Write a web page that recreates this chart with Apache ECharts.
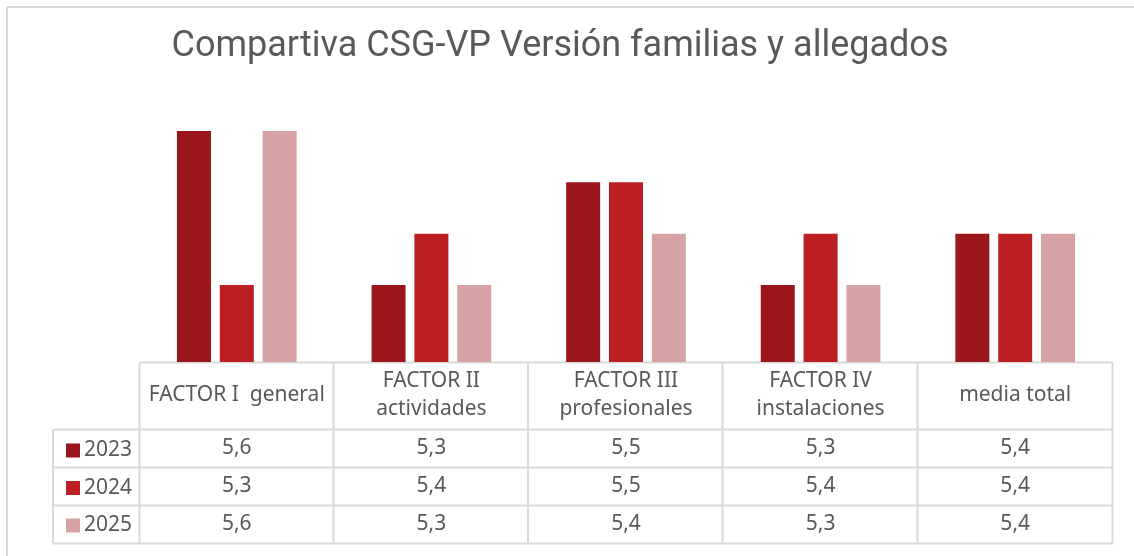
<!DOCTYPE html>
<html>
<head>
<meta charset="utf-8">
<script src="https://cdn.jsdelivr.net/npm/echarts@6/dist/echarts.min.js"></script>
<style>
  html, body { margin: 0; padding: 0; background: #fff; }
  #chart { width: 1134px; height: 556px; }
</style>
</head>
<body>
<div id="chart"></div>
<script>
// datos del gráfico
var categorias = ['FACTOR I  general', 'FACTOR II\nactividades', 'FACTOR III\nprofesionales', 'FACTOR IV\ninstalaciones', 'media total'];
var anios = ['2023', '2024', '2025'];
var v2023 = [5.6, 5.3, 5.5, 5.3, 5.4];
var v2024 = [5.3, 5.4, 5.5, 5.4, 5.4];
var v2025 = [5.6, 5.3, 5.4, 5.3, 5.4];
var colores = ['#9a161a', '#bb1f22', '#d6a2a4'];

var valores = [v2023, v2024, v2025];
var fuente = '"Noto Sans", "Open Sans", sans-serif';
var tam = 21;
var gris = '#595959';
var linea = '#d9d9d9';

var myChart = echarts.init(document.getElementById('chart'));

/*ejes de la tabla: uno por fila*/
var filasY = [448, 486.5, 524.5];
var xAxes = [{
  type: 'category',
  data: categorias,
  position: 'bottom',
  axisLine: { show: false },
  axisTick: { show: false },
  axisLabel: {
    interval: 0,
    margin: 33,
    verticalAlign: 'middle',
    color: gris,
    fontFamily: fuente,
    fontSize: tam,
    lineHeight: 28
  }
}];
valores.forEach(function (serie, i) {
  xAxes.push({
    type: 'category',
    data: categorias,
    position: 'bottom',
    offset: filasY[i] - 362,
    axisLine: { show: false },
    axisTick: { show: false },
    axisLabel: {
      interval: 0,
      margin: 0,
      verticalAlign: 'middle',
      color: gris,
      fontFamily: fuente,
      fontSize: tam,
      formatter: function (v, idx) {
        return String(serie[idx]).replace('.', ',');
      }
    }
  });
});

/*líneas de la tabla*/
var lineas = [];
function addLine(x1, y1, x2, y2) {
  lineas.push({
    type: 'line',
    shape: { x1: x1, y1: y1, x2: x2, y2: y2 },
    style: { stroke: linea, lineWidth: 2 },
    silent: true
  });
}
// borde exterior
addLine(7, 7, 1134, 7);
addLine(7, 7, 7, 556);
// tabla
var colX = [139.5, 333.5, 528, 722.5, 917.5, 1112.5];
addLine(139.5, 362.5, 1112.5, 362.5);
[429.5, 467.5, 505.5, 543.5].forEach(function (y) {
  addLine(53, y, 1112.5, y);
});
addLine(53, 429.5, 53, 543.5);
colX.forEach(function (x) {
  addLine(x, 362.5, x, 543.5);
});

var option = {
  animation: false,
  color: colores,
  title: {
    text: 'Compartiva CSG-VP Versión familias y allegados',
    left: 555,
    textAlign: 'center',
    top: 24,
    textStyle: {
      color: gris,
      fontFamily: 'Roboto, sans-serif',
      fontWeight: 'normal',
      fontSize: 36
    }
  },
  legend: {
    orient: 'vertical',
    left: 61,
    top: 435,
    itemWidth: 14,
    itemHeight: 14,
    itemGap: 16.5,
    icon: 'rect',
    data: anios,
    textStyle: {
      color: gris,
      fontFamily: fuente,
      fontSize: tam,
      lineHeight: 21,
      padding: [0, 0, 0, -1]
    }
  },
  grid: {
    left: 139.5,
    right: 21.5,
    top: 131,
    bottom: 194,
    containLabel: false
  },
  xAxis: xAxes,
  yAxis: {
    type: 'value',
    min: 5.15,
    max: 5.6,
    show: false,
    splitLine: { show: false }
  },
  graphic: lineas,
  series: anios.map(function (a, i) {
    return {
      name: a,
      type: 'bar',
      data: valores[i],
      barWidth: 34,
      barGap: '26%',
      itemStyle: { color: colores[i] }
    };
  })
};

myChart.setOption(option);
</script>
</body>
</html>
